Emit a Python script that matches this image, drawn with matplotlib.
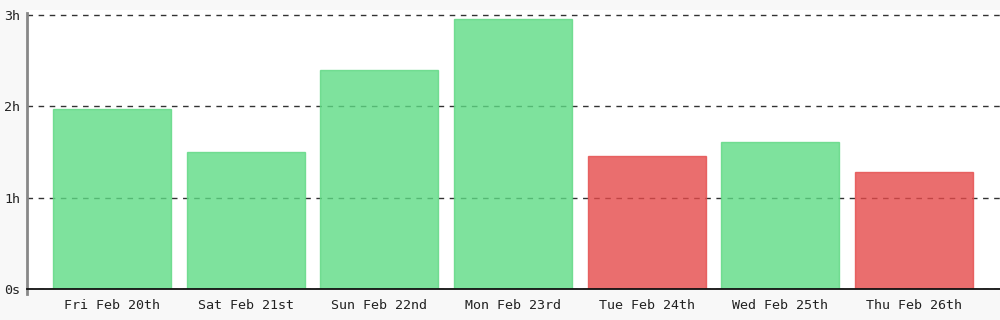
import matplotlib
matplotlib.use("Agg")
import matplotlib.pyplot as plt

# Data (hours)
days = ["Fri Feb 20th", "Sat Feb 21st", "Sun Feb 22nd", "Mon Feb 23rd",
        "Tue Feb 24th", "Wed Feb 25th", "Thu Feb 26th"]
hours = [1.97, 1.50, 2.40, 2.96, 1.46, 1.61, 1.285]
status = ["good", "good", "good", "good", "bad", "good", "bad"]
y_ticks = [0, 1, 2, 3]
y_tick_labels = ["0s", "1h", "2h", "3h"]

fill = {"good": "#5edb85", "bad": "#e54a4a"}
edge = {"good": "#5ed882", "bad": "#e44c4c"}

plt.rcParams['font.family'] = ['DejaVu Sans Mono']

fig = plt.figure(figsize=(10, 3.2), dpi=100, facecolor="#f8f8f8")
ax = fig.add_axes([0.027, 320 - 289, 0.973, 279])
ax.set_position([0.027, 31 / 320, 0.973, 279 / 320])
ax.set_facecolor("white")

x = list(range(len(days)))
ax.bar(x, hours, width=0.883,
       color=[fill[s] for s in status],
       edgecolor=[edge[s] for s in status],
       linewidth=1.0, alpha=0.8, zorder=2)

ax.set_xlim(-0.636, 6.643)
ax.set_ylim(0, 3 + 5 / 91.3)

ax.set_yticks(y_ticks)
ax.set_yticklabels(y_tick_labels)
ax.set_xticks(x)
ax.set_xticklabels(days)

ax.yaxis.grid(True, linestyle=(0, (4, 4)), color="#333333", linewidth=1.0, zorder=1)
ax.set_axisbelow(True)

ax.tick_params(axis="x", length=0, pad=7, labelsize=9.6, labelcolor="#222222")
ax.tick_params(axis="y", length=0, pad=5, labelsize=9.6, labelcolor="#222222")

for s in ["top", "right"]:
    ax.spines[s].set_visible(False)
ax.spines["left"].set_color("#888888")
ax.spines["left"].set_linewidth(2)
ax.spines["left"].set_bounds(-0.055, 3.025)
ax.spines["bottom"].set_color("#111111")
ax.spines["bottom"].set_linewidth(1.3)
ax.spines["bottom"].set_zorder(3)

fig.savefig("out.png", dpi=100, facecolor=fig.get_facecolor())
